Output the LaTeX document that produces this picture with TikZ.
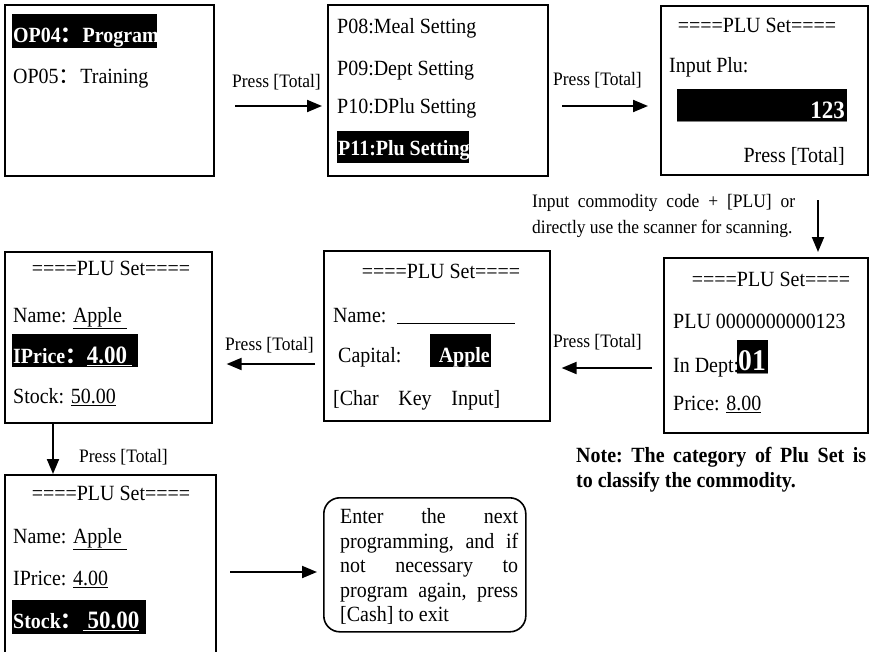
\documentclass[tikz,border=0pt]{standalone}
\usepackage{fontspec}
\setmainfont{Liberation Serif}[FakeStretch=0.92]
\newfontfamily\cjk{Noto Sans CJK SC}
\usetikzlibrary{arrows.meta}
\newcommand{\bignum}[2]{{\fontsize{#1}{#1}\selectfont #2}}
\begin{document}
\begin{tikzpicture}[x=1pt,y=-1pt,
  box/.style={draw, line width=1.6pt, inner sep=0pt, anchor=north west},
  rbox/.style={draw, line width=1.6pt, inner sep=0pt, anchor=north west, rounded corners=16pt},
  txt/.style={inner sep=0pt, anchor=base west, font=\fontsize{21.7}{26}\selectfont},
  ttl/.style={inner sep=0pt, anchor=base, font=\fontsize{21.7}{26}\selectfont},
  wtxt/.style={inner sep=0pt, anchor=base west, text=white, font=\fontsize{21.7}{26}\selectfont\bfseries},
  lbl/.style={inner sep=0pt, anchor=base west, font=\fontsize{19}{23}\selectfont},
  hl/.style={fill=black, inner sep=0pt, anchor=north west},
  arr/.style={line width=2pt, -{Triangle[length=15pt,width=12pt]}},
]
\useasboundingbox (0,0) rectangle (869,651);

% ---------- boxes ----------
\node[box, minimum width=209pt, minimum height=171pt] (b1) at (4,4) {};
\node[box, minimum width=220pt, minimum height=171pt] (b2) at (327,4) {};
\node[box, minimum width=207pt, minimum height=169pt] (b3) at (660,5) {};
\node[box, minimum width=204pt, minimum height=175pt] (b4) at (663,257) {};
\node[box, minimum width=226pt, minimum height=170pt] (b5) at (323,250) {};
\node[box, minimum width=207pt, minimum height=171pt] (b6) at (4,251) {};
\node[box, minimum width=211pt, minimum height=190pt] (b7) at (4,474) {};
\node[rbox, minimum width=202pt, minimum height=134pt] (b8) at (323,497) {};

% ---------- box 1 ----------
\node[hl, minimum width=145pt, minimum height=34pt] (h1) at (12,14) {};
\node[wtxt] (t11) at (13,42) {OP04{\cjk ：}Program};
\node[txt] (t12) at (13,83) {OP05{\cjk ：}Training};

% ---------- box 2 ----------
\node[txt] (t21) at (337,33) {P08:Meal Setting};
\node[txt] (t22) at (337,75) {P09:Dept Setting};
\node[txt] (t23) at (337,113) {P10:DPlu Setting};
\node[hl, minimum width=132pt, minimum height=32pt] (h2) at (337,131) {};
\node[wtxt] (t24) at (338,155) {P11:Plu Setting};

% ---------- box 3 ----------
\node[ttl] (t31) at (757,32) {====PLU Set====};
\node[txt] (t32) at (669,72) {Input Plu:};
\node[hl, minimum width=170pt, minimum height=32pt] (h3) at (677,89) {};
\draw[line width=0.8pt, gray] (h3.south west) -- (h3.south east);
\node[wtxt, anchor=base east] (t33) at (845,118) {\bignum{25}{123}};
\node[txt, anchor=base east] (t34) at (845,162) {Press [Total]};

% ---------- box 4 ----------
\node[ttl] (t41) at (771,286) {====PLU Set====};
\node[txt] (t42) at (673,328) {PLU 0000000000123};
\node[txt] (t43) at (673,372) {In Dept:};
\node[hl, minimum width=31pt, minimum height=33pt] (h4) at (737,340) {};
\draw[line width=0.8pt, gray] (h4.south west) -- (h4.south east);
\node[wtxt, anchor=base] (t44) at (752,370) {\bignum{30}{01}};
\node[txt] (t45) at (673,410) {Price: \underline{8.00}};

% ---------- box 5 ----------
\node[ttl] (t51) at (441,278) {====PLU Set====};
\node[txt] (t52) at (333,322) {Name:};
\coordinate (u5a) at (397,323);
\coordinate (u5b) at (515,323);
\draw[line width=1pt] (u5a) -- (u5b);
\node[txt] (t53) at (338,362) {Capital:};
\node[hl, minimum width=61pt, minimum height=33pt] (h5) at (430,334) {};
\node[wtxt, anchor=base east] (t54) at (490,362) {Apple};
\node[txt] (t55) at (333,405) {\makebox[167pt][s]{[Char\hfill Key\hfill Input]}};

% ---------- box 6 ----------
\node[ttl] (t61) at (111,275) {====PLU Set====};
\node[txt] (t62) at (13,322) {Name: \underline{Apple\ }};
\node[hl, minimum width=126pt, minimum height=33pt] (h6) at (12,334) {};
\node[wtxt] (t63) at (13,363) {IPrice{\cjk ：}\underline{\bignum{25}{4.00}\ }};
\node[txt] (t64) at (13,403) {Stock: \underline{50.00}};

% ---------- box 7 ----------
\node[ttl] (t71) at (111,500) {====PLU Set====};
\node[txt] (t72) at (13,543) {Name: \underline{Apple\ }};
\node[txt] (t73) at (13,585) {IPrice: \underline{4.00}};
\node[hl, minimum width=134pt, minimum height=34pt] (h7) at (12,600) {};
\node[wtxt] (t74) at (13,628) {Stock{\cjk ：}\underline{\ \bignum{25}{50.00}}};

% ---------- rounded box ----------
\node[txt] (r1) at (340,523) {\makebox[178pt][s]{Enter\hfill the\hfill next}};
\node[txt] (r2) at (340,548) {\makebox[178pt][s]{programming,\hfill and\hfill if}};
\node[txt] (r3) at (340,572) {\makebox[178pt][s]{not\hfill necessary\hfill to}};
\node[txt] (r4) at (340,597) {\makebox[178pt][s]{program\hfill again,\hfill press}};
\node[txt] (r5) at (340,621) {[Cash] to exit};

% ---------- free texts ----------
\node[lbl] (c1) at (532,207) {\makebox[263pt][s]{Input\hfill commodity\hfill code\hfill +\hfill [PLU]\hfill or}};
\node[lbl] (c2) at (532,233) {directly use the scanner for scanning.};
\node[txt, font=\fontsize{21.7}{26}\selectfont\bfseries] (n1) at (576,462) {\makebox[290pt][s]{Note:\hfill The\hfill category\hfill of\hfill Plu\hfill Set\hfill is}};
\node[txt, font=\fontsize{21.7}{26}\selectfont\bfseries] (n2) at (576,487) {to classify the commodity.};

% ---------- arrows & labels ----------
\node[lbl] (l1) at (232,87) {Press [Total]};
\coordinate (s1) at (235,106);
\draw[arr, shorten >=5pt] (s1) -- (s1 -| b2.west);

\node[lbl] (l2) at (553,85) {Press [Total]};
\coordinate (s2) at (562,106);
\draw[arr, shorten >=12pt] (s2) -- (s2 -| b3.west);

\coordinate (s3) at (818,200);
\draw[arr, shorten >=5pt] (s3) -- (s3 |- b4.north);

\node[lbl] (l4) at (553,347) {Press [Total]};
\coordinate (s4) at (652,368);
\draw[arr, shorten >=11pt] (s4) -- (s4 -| b5.east);

\node[lbl] (l5) at (225,350) {Press [Total]};
\coordinate (s5) at (315,364);
\draw[arr, shorten >=14pt] (s5) -- (s5 -| b6.east);

\coordinate (s6) at (53,422);
\draw[arr] (s6) -- (s6 |- b7.north);
\node[lbl] (l6) at (79,462) {Press [Total]};

\coordinate (s7) at (230,572);
\draw[arr, shorten >=6pt] (s7) -- (s7 -| b8.west);
\end{tikzpicture}
\end{document}
